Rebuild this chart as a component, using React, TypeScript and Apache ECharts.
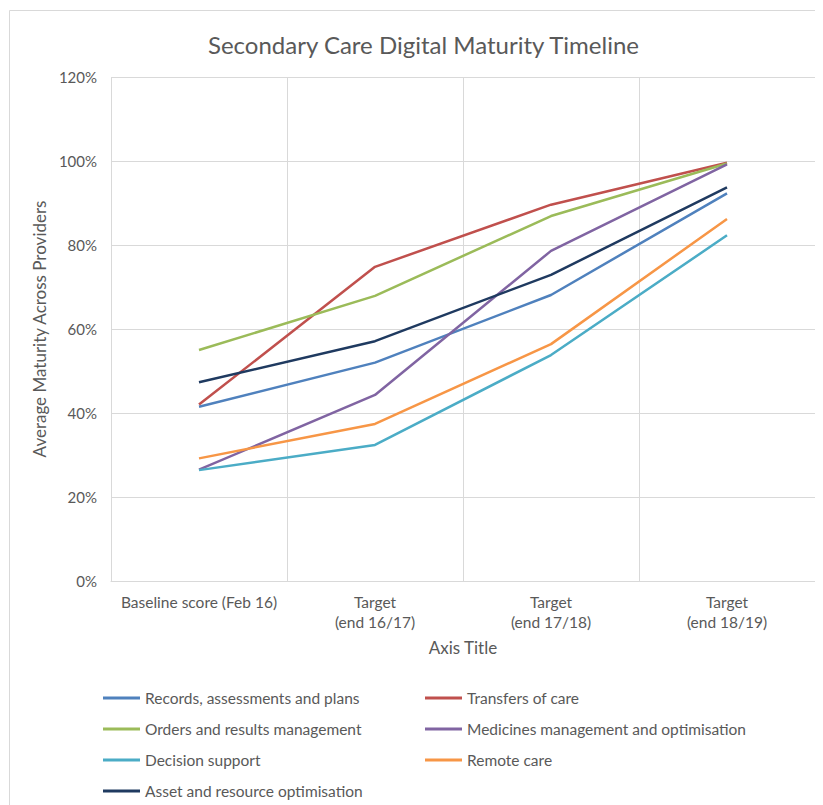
import React, { useEffect, useRef } from "react";
import * as echarts from "echarts";

const categories = ["Baseline score (Feb 16)", "Target\n(end 16/17)", "Target\n(end 17/18)", "Target\n(end 18/19)"];
const records = [41.5, 52, 68.1, 92.3];
const transfers = [42, 74.8, 89.6, 99.6];
const orders = [55, 67.9, 86.9, 99.4];
const medicines = [26.5, 44.3, 78.6, 99.2];
const decision = [26.4, 32.4, 53.8, 82.3];
const remote = [29.2, 37.4, 56.4, 86.2];
const asset = [47.3, 57.1, 72.9, 93.7];
const yTicks = [0, 20, 40, 60, 80, 100, 120];

const seriesDefs = [
  { name: "Records, assessments and plans", data: records, color: "#4F81BD" },
  { name: "Transfers of care", data: transfers, color: "#C0504D" },
  { name: "Orders and results management", data: orders, color: "#9BBB59" },
  { name: "Medicines management and optimisation", data: medicines, color: "#8064A2" },
  { name: "Decision support", data: decision, color: "#4BACC6" },
  { name: "Remote care", data: remote, color: "#F79646" },
  { name: "Asset and resource optimisation", data: asset, color: "#1F3A60" },
];

const FONT = "Lato, 'Open Sans', sans-serif";
const GREY = "#595959";

export default function App() {
  const ref = useRef<HTMLDivElement>(null);
  useEffect(() => {
    if (!ref.current) return;
    const chart = echarts.init(ref.current, null, { renderer: "svg" });
    const legendCommon = {
      orient: "vertical" as const,
      icon: "rect",
      itemWidth: 37,
      itemHeight: 3,
      itemGap: 13,
      padding: 0,
      textStyle: { color: GREY, fontSize: 15.5, lineHeight: 18, fontFamily: FONT },
    };
    chart.setOption({
      animation: false,
      backgroundColor: "#fff",
      title: {
        text: "Secondary Care Digital Maturity Timeline",
        left: 195,
        top: 19,
        textStyle: { color: GREY, fontSize: 24, fontWeight: "normal", fontFamily: FONT },
      },
      graphic: [
        { type: "line", shape: { x1: 1.5, y1: 2.5, x2: 815, y2: 2.5 }, style: { stroke: "#d9d9d9", lineWidth: 1 } },
        { type: "line", shape: { x1: 1.5, y1: 2.5, x2: 1.5, y2: 797 }, style: { stroke: "#d9d9d9", lineWidth: 1 } },
      ],
      grid: { left: 103, top: 69, right: 8, bottom: 224, containLabel: false },
      xAxis: {
        type: "category",
        data: categories,
        boundaryGap: true,
        axisLine: { show: true, lineStyle: { color: "#d9d9d9" } },
        axisTick: { show: false, interval: 0 },
        splitLine: { show: true, interval: 0, lineStyle: { color: "#d9d9d9", width: 1 } },
        axisLabel: { interval: 0, color: GREY, fontSize: 15.5, fontFamily: FONT, margin: 11, lineHeight: 20 },
        name: "Axis Title",
        nameLocation: "middle",
        nameGap: 58,
        nameTextStyle: { color: GREY, fontSize: 17, fontFamily: FONT },
      },
      yAxis: {
        type: "value",
        min: yTicks[0],
        max: yTicks[yTicks.length - 1],
        interval: 20,
        axisLine: { show: false },
        axisTick: { show: false },
        splitLine: { show: true, lineStyle: { color: "#d9d9d9", width: 1 } },
        axisLabel: { color: GREY, fontSize: 15, fontFamily: FONT, margin: 14, formatter: "{value}%" },
        name: "Average Maturity Across Providers",
        nameLocation: "middle",
        nameGap: 57,
        nameTextStyle: { color: GREY, fontSize: 17, fontFamily: FONT },
      },
      legend: [
        {
          ...legendCommon,
          left: 95,
          top: 681,
          data: [seriesDefs[0].name, seriesDefs[2].name, seriesDefs[4].name, seriesDefs[6].name],
        },
        {
          ...legendCommon,
          left: 417,
          top: 681,
          data: [seriesDefs[1].name, seriesDefs[3].name, seriesDefs[5].name],
        },
      ],
      series: seriesDefs.map((s) => ({
        name: s.name,
        type: "line",
        data: s.data,
        symbol: "none",
        color: s.color,
        lineStyle: { width: 2.5, color: s.color },
        itemStyle: { color: s.color },
      })),
    });
    return () => chart.dispose();
  }, []);
  return <div ref={ref} style={{ width: 815, height: 797 }} />;
}
